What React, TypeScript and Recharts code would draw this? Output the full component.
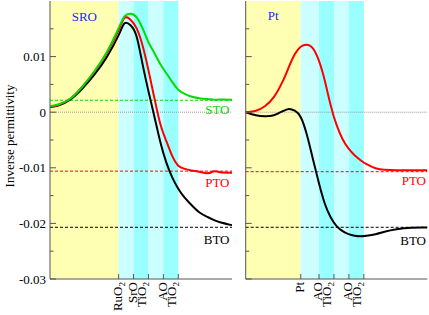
import React from "react";
import { LineChart, Line, XAxis, YAxis, ReferenceArea, ReferenceLine } from "recharts";

// layer planes of the two interfaces (unit cells from the electrode)
const sroLayerPos = [0, 0.5, 1, 1.5, 2];
const sroLayerNames = ["RuO2", "SrO\nTiO2", "", "AO\nTiO2", ""];
const ptLayerPos = [0, 0.61, 1.11, 1.61, 2.11];
const ptLayerNames = ["Pt", "AO\nTiO2", "", "AO\nTiO2", ""];

// SRO electrode panel
const sroX = [-2.3, -2.0, -1.6, -1.2, -0.8, -0.4, 0, 0.2, 0.4, 0.6, 0.8, 1.0, 1.2, 1.4, 1.6, 1.8, 2.0, 2.2, 2.4, 2.7, 3.0, 3.2, 3.4, 3.8];
const sroSTO = [0.00108, 0.00144, 0.00252, 0.00468, 0.00746, 0.01079, 0.01511, 0.01727, 0.01772, 0.01709, 0.01511, 0.01259, 0.01061, 0.00863, 0.00701, 0.0054, 0.00405, 0.00333, 0.00288, 0.00252, 0.00234, 0.00225, 0.00228, 0.00225];
const sroPTO = [0.00095, 0.00135, 0.00252, 0.00468, 0.00737, 0.01061, 0.01475, 0.017, 0.01664, 0.01511, 0.01205, 0.00755, 0.00252, -0.00216, -0.00522, -0.00791, -0.00962, -0.01016, -0.01043, -0.0107, -0.01097, -0.01061, -0.01079, -0.01088];
const sroBTO = [0.00095, 0.00126, 0.00234, 0.00432, 0.00683, 0.00989, 0.01385, 0.016, 0.01565, 0.01367, 0.0087, 0.00378, -0.00081, -0.0054, -0.00908, -0.01176, -0.01376, -0.01529, -0.01646, -0.01799, -0.01889, -0.01942, -0.01978, -0.02032];

// Pt electrode panel
const ptX = [-1.84, -1.5, -1.2, -0.9, -0.6, -0.4, -0.2, 0, 0.2, 0.4, 0.6, 0.8, 1.0, 1.2, 1.4, 1.6, 1.8, 2.0, 2.2, 2.5, 2.8, 3.2, 3.7, 4.23];
const ptPTO = [0, 0.00027, 0.00108, 0.0027, 0.00558, 0.00809, 0.01043, 0.01178, 0.01214, 0.01151, 0.00935, 0.00576, 0.00126, -0.00234, -0.00486, -0.00656, -0.00773, -0.00863, -0.00935, -0.01007, -0.01034, -0.01043, -0.01043, -0.01043];
const ptBTO = [0, -0.00054, -0.00072, -0.00054, 0.00018, 0.00059, 0.00027, -0.0009, -0.00396, -0.00827, -0.01259, -0.01637, -0.01889, -0.0205, -0.0214, -0.02194, -0.02221, -0.0223, -0.02221, -0.02194, -0.02149, -0.02104, -0.02077, -0.02074];

// bulk values (dashed lines)
const bulkSTO = 0.00215;
const bulkPTO = -0.0106;
const bulkBTO = -0.0207;
const bulkPTOpt = -0.0107;

const yTicks = [-0.03, -0.025, -0.02, -0.015, -0.01, -0.005, 0, 0.005, 0.01, 0.015];

const sroRows = sroX.map((x, i) => ({ x, sto: sroSTO[i], pto: sroPTO[i], bto: sroBTO[i] }));
const ptRows = ptX.map((x, i) => ({ x, pto: ptPTO[i], bto: ptBTO[i] }));

const AXIS = "#555";
const BLUE = "#1f1fff";
const GREEN = "#00dd00";
const RED = "#ff0000";
const YELLOW = "#ffffb3";
const LIGHT = "#ccffff";
const CYAN = "#99ffff";
const FONT = "'Liberation Serif', 'Times New Roman', serif";

const isMajor = (v: number) => Math.abs(v * 100 - Math.round(v * 100)) < 1e-6;

const LayerTick = (props: any) => {
  const { x, y, payload, positions, names } = props;
  const i = positions.findIndex((p: number) => Math.abs(p - payload.value) < 1e-9);
  const lines: string[] = i >= 0 && names[i] ? names[i].split("\n") : [];
  return (
    <g>
      <line x1={x} x2={x} y1={y} y2={y - 5} stroke={AXIS} />
      {lines.map((ln, k) => {
        const m = ln.match(/^(.*?)(\d*)$/) as RegExpMatchArray;
        const bx = x + 3.3 + k * 9;
        const by = y + 3;
        return (
          <text key={k} x={bx} y={by} transform={`rotate(-90 ${bx} ${by})`} textAnchor="end"
            fontSize={13} fontFamily={FONT} fill="#000">
            {m[1]}
            {m[2] ? <tspan fontSize={9} dy={3}>{m[2]}</tspan> : null}
          </text>
        );
      })}
    </g>
  );
};

const TopTick = (props: any) => (
  <line x1={props.x} x2={props.x} y1={props.y} y2={props.y + 5} stroke={AXIS} />
);

const LeftTick = (props: any) => {
  const { x, y, payload, showLabel } = props;
  const v = payload.value;
  const len = isMajor(v) ? 6 : 3.5;
  return (
    <g>
      <line x1={x} x2={x + len} y1={y} y2={y} stroke={AXIS} />
      {showLabel && isMajor(v) ? (
        <text x={x - 4} y={y} dy="0.35em" textAnchor="end" fontSize={13} fontFamily={FONT} fill="#000">
          {v === 0 ? "0" : v.toFixed(2)}
        </text>
      ) : null}
    </g>
  );
};

const RightTick = (props: any) => {
  const { x, y, payload } = props;
  const len = isMajor(payload.value) ? 6 : 3.5;
  return <line x1={x} x2={x - len} y1={y} y2={y} stroke={AXIS} />;
};

const tag = (text: string, color: string, dy: number, inset: number) => (p: any) => {
  const vb = p.viewBox || { x: 0, y: 0, width: 0 };
  return (
    <text x={vb.x + vb.width - inset} y={vb.y + dy} textAnchor="end" fill={color} fontSize={13} fontFamily={FONT}>
      {text}
    </text>
  );
};

const axisTitle = (p: any) => {
  const vb = p.viewBox || { x: 0, y: 0, height: 0 };
  const cx = vb.x + 14;
  const cy = vb.y + vb.height / 2 - 4;
  return (
    <text x={cx} y={cy} transform={`rotate(-90 ${cx} ${cy})`} textAnchor="middle" fontSize={13} fontFamily={FONT} fill="#000">
      Inverse permittivity
    </text>
  );
};

const bands = (pos: number[], start: number, name: string, offset: number) => {
  const edges = [start, ...pos];
  const fills = [YELLOW, LIGHT, CYAN, LIGHT, CYAN];
  return fills.map((fill, i) => (
    <ReferenceArea
      key={i}
      xAxisId="b"
      yAxisId="l"
      x1={edges[i]}
      x2={edges[i + 1]}
      fill={fill}
      fillOpacity={1}
      stroke="none"
      ifOverflow="hidden"
      label={i === 0 ? { value: name, position: "insideTop", offset, fill: BLUE, fontSize: 13, fontFamily: FONT } : undefined}
    />
  ));
};

const Panel = ({ rows, domain, pos, names, width, yWidth, right, showLabels, children }: any) => (
  <LineChart width={width} height={315} data={rows} margin={{ top: 1, right, bottom: 0, left: 0 }}>
    <XAxis xAxisId="b" dataKey="x" type="number" domain={domain} allowDataOverflow ticks={pos} interval={0}
      height={36} tickSize={0} tickMargin={0} stroke={AXIS}
      tick={(p: any) => <LayerTick {...p} positions={pos} names={names} />} />
    <XAxis xAxisId="t" orientation="top" dataKey="x" type="number" domain={domain} allowDataOverflow ticks={pos}
      interval={0} height={0} tickSize={0} tickMargin={0} stroke={AXIS} tick={(p: any) => <TopTick {...p} />} />
    <YAxis yAxisId="l" type="number" domain={[-0.03, 0.02]} allowDataOverflow ticks={yTicks} interval={0}
      width={yWidth} tickSize={0} tickMargin={0} stroke={AXIS}
      tick={(p: any) => <LeftTick {...p} showLabel={showLabels} />}
      label={showLabels ? axisTitle : undefined} />
    <YAxis yAxisId="r" orientation="right" type="number" domain={[-0.03, 0.02]} allowDataOverflow ticks={yTicks}
      interval={0} width={0} tickSize={0} tickMargin={0} stroke={AXIS}
      tick={showLabels ? false : (p: any) => <RightTick {...p} />} />
    {children}
  </LineChart>
);

export default function App() {
  return (
    <div style={{ position: "absolute", left: 0, top: 0, width: 429, height: 315, background: "#fff", fontFamily: FONT }}>
      <div style={{ position: "absolute", left: 0, top: 0 }}>
        <Panel rows={sroRows} domain={[-2.3, 3.8]} pos={sroLayerPos} names={sroLayerNames} width={233} yWidth={50} right={1} showLabels>
          {bands(sroLayerPos, -2.3, "SRO", 10.8)}
          <ReferenceLine xAxisId="b" yAxisId="l" y={0} stroke="#999" strokeDasharray="1 1" />
          <ReferenceLine xAxisId="b" yAxisId="l" y={bulkSTO} stroke={GREEN} strokeDasharray="3 2" label={tag("STO", GREEN, 13.6, 2.5)} />
          <ReferenceLine xAxisId="b" yAxisId="l" y={bulkPTO} stroke={RED} strokeDasharray="3 2" label={tag("PTO", RED, 16, 2.5)} />
          <ReferenceLine xAxisId="b" yAxisId="l" y={bulkBTO} stroke="#000" strokeDasharray="3 2" label={tag("BTO", "#000", 16.3, 2.5)} />
          <Line xAxisId="b" yAxisId="l" type="natural" dataKey="bto" stroke="#000" strokeWidth={2} dot={false} isAnimationActive={false} />
          <Line xAxisId="b" yAxisId="l" type="natural" dataKey="pto" stroke={RED} strokeWidth={2} dot={false} isAnimationActive={false} />
          <Line xAxisId="b" yAxisId="l" type="natural" dataKey="sto" stroke={GREEN} strokeWidth={2} dot={false} isAnimationActive={false} />
        </Panel>
      </div>
      <div style={{ position: "absolute", left: 240, top: 0 }}>
        <Panel rows={ptRows} domain={[-1.84, 4.23]} pos={ptLayerPos} names={ptLayerNames} width={189} yWidth={5.7} right={1.7} showLabels={false}>
          {bands(ptLayerPos, -1.84, "Pt", 9.3)}
          <ReferenceLine xAxisId="b" yAxisId="l" y={0} stroke="#999" strokeDasharray="1 1" />
          <ReferenceLine xAxisId="b" yAxisId="l" y={bulkPTOpt} stroke={RED} strokeDasharray="3 2" label={tag("PTO", RED, 13.3, 1.3)} />
          <ReferenceLine xAxisId="b" yAxisId="l" y={bulkBTO} stroke="#000" strokeDasharray="3 2" label={tag("BTO", "#000", 17.7, 1.3)} />
          <Line xAxisId="b" yAxisId="l" type="natural" dataKey="bto" stroke="#000" strokeWidth={2} dot={false} isAnimationActive={false} />
          <Line xAxisId="b" yAxisId="l" type="natural" dataKey="pto" stroke={RED} strokeWidth={2} dot={false} isAnimationActive={false} />
        </Panel>
      </div>
    </div>
  );
}
